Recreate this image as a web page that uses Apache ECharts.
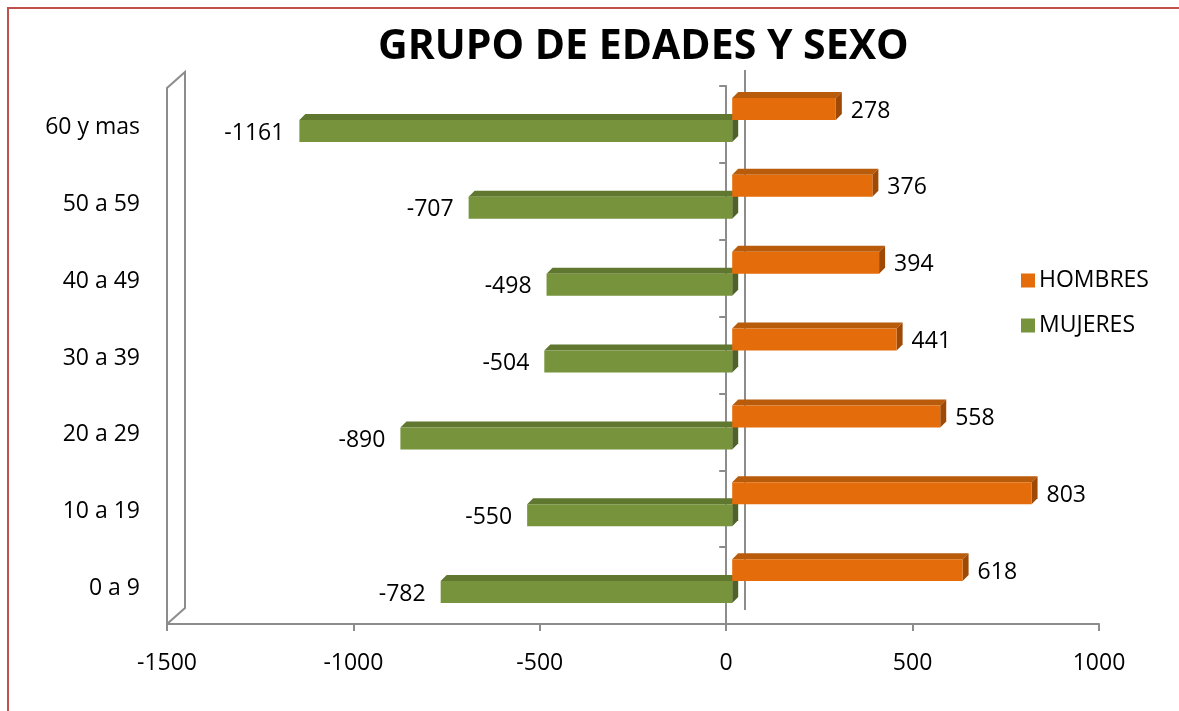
<!DOCTYPE html>
<html>
<head>
<meta charset="utf-8">
<script src="https://cdn.jsdelivr.net/npm/echarts@6/dist/echarts.min.js"></script>
<style>
 html, body { margin: 0; padding: 0; background: #fff; }
 #chart { width: 1179px; height: 711px; }
</style>
</head>
<body>
<div id="chart"></div>
<script>
// age groups, bottom to top
var grupos = ['0 a 9', '10 a 19', '20 a 29', '30 a 39', '40 a 49', '50 a 59', '60 y mas'];
var hombres = [618, 803, 558, 441, 394, 376, 278];
var mujeres = [-782, -550, -890, -504, -498, -707, -1161];
var xTicks = [-1500, 1000, 500];  // min, max, interval

var FONT = 'Open Sans';

// colours for the fake 3D faces
var faces = {
 HOMBRES: { front: '#E46C0A', top: '#B85B0B', side: '#9E4A06' },
 MUJERES: { front: '#77933C', top: '#5F772F', side: '#4F6228' }
};

function bar3d(name, upper) {
 return function (params, api) {
  var cat = api.value(0);
  var val = api.value(1);
  var band = api.size([0, 1])[1];
  var h = band * 0.286;
  var d = 6, shift = 6;
  var c0 = api.coord([0, cat]);
  var c1 = api.coord([val, cat]);
  var yTop = upper ? c0[1] - band * 0.344 : c0[1] - band * 0.058;
  var xa = Math.min(c0[0], c1[0]) + shift;
  var xb = Math.max(c0[0], c1[0]) + shift;
  var f = faces[name];
  var labelX = val >= 0 ? xb + 15 : xa - 15;
  return {
   type: 'group',
   children: [
    { type: 'polygon', shape: { points: [[xa, yTop], [xa + d, yTop - d], [xb + d, yTop - d], [xb, yTop]] }, style: { fill: f.top } },
    { type: 'polygon', shape: { points: [[xb, yTop], [xb + d, yTop - d], [xb + d, yTop + h - d], [xb, yTop + h]] }, style: { fill: f.side } },
    { type: 'rect', shape: { x: xa, y: yTop, width: xb - xa, height: h }, style: { fill: f.front } },
    { type: 'text', style: { text: String(val), x: labelX, y: yTop + h / 2 + 2, align: val >= 0 ? 'left' : 'right', verticalAlign: 'middle', fontSize: 23, fontFamily: FONT, fill: '#000' } }
   ]
  };
 };
}

var chart = echarts.init(document.getElementById('chart'));

var option = {
 animation: false,
 backgroundColor: '#fff',
 title: {
  text: 'GRUPO DE EDADES Y SEXO',
  left: 373,
  top: 22,
  textStyle: { fontFamily: FONT, fontWeight: 'bold', fontSize: 41, color: '#000' }
 },
 legend: {
  orient: 'vertical',
  left: 1016,
  top: 264,
  itemWidth: 14,
  itemHeight: 14,
  itemGap: 22,
  icon: 'rect',
  data: ['HOMBRES', 'MUJERES'],
  textStyle: { fontFamily: FONT, fontSize: 23, color: '#000', padding: [0, 0, 0, -1] }
 },
 grid: { left: 167, right: 80, top: 86, bottom: 87 },
 xAxis: {
  type: 'value',
  min: xTicks[0],
  max: xTicks[1],
  interval: xTicks[2],
  splitLine: { show: false },
  axisLine: { show: true, lineStyle: { color: '#8c8c8c', width: 2 } },
  axisTick: { show: true, length: 7, lineStyle: { color: '#8c8c8c', width: 2 } },
  axisLabel: { margin: 28, fontFamily: FONT, fontSize: 23, color: '#000', formatter: function (v) { return String(v); } }
 },
 yAxis: {
  type: 'category',
  data: grupos,
  axisLine: { onZero: true, lineStyle: { color: '#8c8c8c', width: 2 } },
  axisTick: { show: true, length: 7, lineStyle: { color: '#8c8c8c', width: 2 } },
  axisLabel: { show: false }
 },
 graphic: [
  // red outer frame
  { type: 'rect', shape: { x: 8, y: 8, width: 1190, height: 720 }, style: { fill: null, stroke: '#C0504D', lineWidth: 2 }, z: 1 },
  // side wall
  { type: 'polyline', shape: { points: [[167, 624], [167, 88], [185, 72], [185, 608], [167, 624]] }, style: { fill: '#fff', stroke: '#8c8c8c', lineWidth: 2 }, z: 1 },
  // back zero line
  { type: 'line', shape: { x1: 745, y1: 70, x2: 745, y2: 610 }, style: { stroke: '#8c8c8c', lineWidth: 2 }, z: 0 }
 ],
 series: [
  {
   name: 'HOMBRES',
   type: 'custom',
   z: 3,
   itemStyle: { color: faces.HOMBRES.front },
   encode: { x: 1, y: 0 },
   renderItem: bar3d('HOMBRES', true),
   data: hombres.map(function (v, i) { return [i, v]; })
  },
  {
   name: 'MUJERES',
   type: 'custom',
   z: 2,
   itemStyle: { color: faces.MUJERES.front },
   encode: { x: 1, y: 0 },
   renderItem: bar3d('MUJERES', false),
   data: mujeres.map(function (v, i) { return [i, v]; })
  }
 ]
};

chart.setOption(option);

// category names sit left of the side wall, placed with the axis scale
var labels = grupos.map(function (g, i) {
 var p = chart.convertToPixel({ yAxisIndex: 0 }, i);
 return { type: 'text', style: { text: g, x: 140, y: p + 3, align: 'right', verticalAlign: 'middle', fontSize: 23, fontFamily: FONT, fill: '#000' } };
});
chart.setOption({ graphic: option.graphic.concat(labels) });
</script>
</body>
</html>
